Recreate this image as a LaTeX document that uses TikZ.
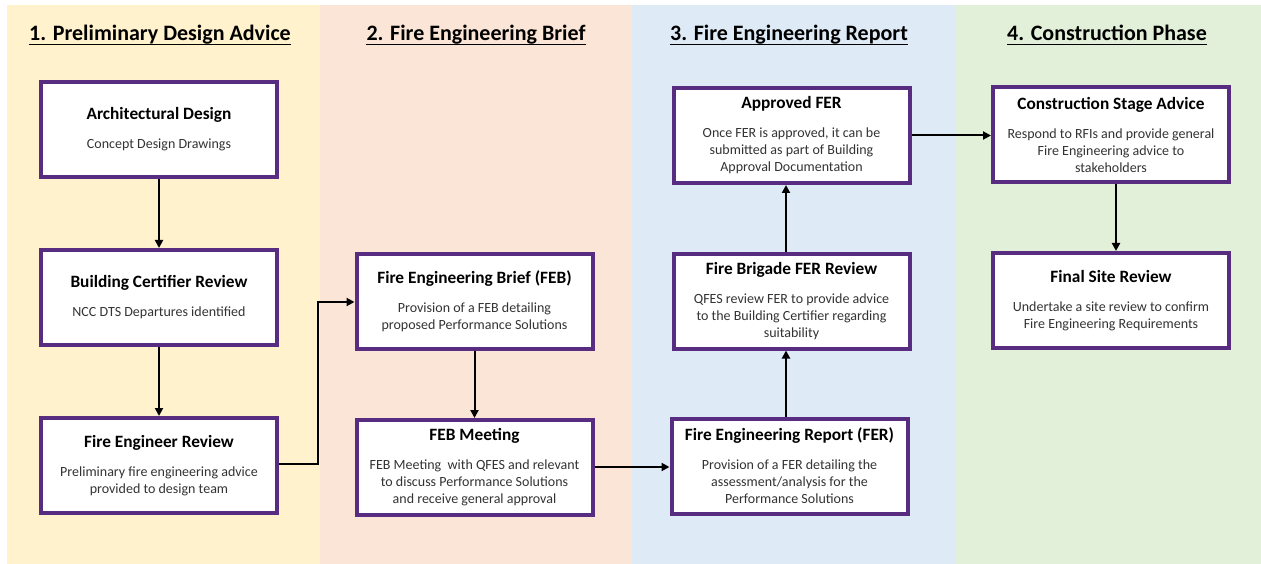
\documentclass[tikz,border=0pt]{standalone}
\usepackage{fontspec}
\setmainfont{Carlito}
\usetikzlibrary{arrows.meta,calc}
\definecolor{pY}{HTML}{FFF2CC}
\definecolor{pP}{HTML}{FBE5D6}
\definecolor{pB}{HTML}{DEEBF7}
\definecolor{pG}{HTML}{E2F0D9}
\definecolor{purp}{RGB}{88,44,128}
\definecolor{subc}{HTML}{333333}
\newcommand{\bxc}[2]{{\fontsize{17.3}{17}\selectfont\bfseries\color{black}#1}\\[12pt]#2}
\tikzset{
  stagebox/.style={draw=purp, line width=4pt, fill=white, minimum width=236pt, minimum height=95pt,
    inner sep=0pt, align=center, text=subc, font=\fontsize{14}{17}\selectfont},
  hdr/.style={font=\fontsize{22}{24}\selectfont\bfseries, inner sep=0pt, anchor=base},
  arr/.style={line width=2pt, -{Triangle[length=8pt,width=8pt]}},
  ul/.style={line width=1.4pt}
}
\begin{document}
\begin{tikzpicture}[x=1pt,y=-1pt]
\useasboundingbox (0,0) rectangle (1261,564);
\fill[white] (0,0) rectangle (1261,564);
\fill[pY] (7,5) rectangle (320,564);
\fill[pP] (320,5) rectangle (632,564);
\fill[pB] (632,5) rectangle (955,564);
\fill[pG] (955,5) rectangle (1261,564);
% headers
\node[hdr] (h1) at (160,41) {1. Preliminary Design Advice};
\node[hdr] (h2) at (476,41) {2. Fire Engineering Brief};
\node[hdr] (h3) at (789,41) {3. Fire Engineering Report};
\node[hdr] (h4) at (1107,41) {4. Construction Phase};
\foreach \h in {h1,h2,h3,h4}{
  \draw[ul] ([yshift=-3.5pt]\h.base west) -- ([yshift=-3.5pt]\h.base east);
}
% boxes
\node[stagebox] (A1) at (159,129.5) {\bxc{Architectural Design}{Concept Design Drawings}};
\node[stagebox] (A2) at (159,297.5) {\bxc{Building Certifier Review}{NCC DTS Departures identified}};
\node[stagebox] (A3) at (159,465.5) {\bxc{Fire Engineer Review}{Preliminary fire engineering advice\\provided to design team}};
\node[stagebox] (B1) at (474.5,301.5) {\bxc{Fire Engineering Brief (FEB)}{Provision of a FEB detailing\\proposed Performance Solutions}};
\node[stagebox] (B2) at (474.5,467.5) {\bxc{FEB Meeting}{FEB Meeting\ \ with QFES and relevant\\to discuss Performance Solutions\\and receive general approval}};
\node[stagebox] (C1) at (789.5,466) {\bxc{Fire Engineering Report (FER)}{Provision of a FER detailing the\\assessment/analysis for the\\Performance Solutions}};
\node[stagebox] (C2) at (791.5,301) {\bxc{Fire Brigade FER Review}{QFES review FER to provide advice\\to the Building Certifier regarding\\suitability}};
\node[stagebox] (C3) at (791.5,135.5) {\bxc{Approved FER}{Once FER is approved, it can be\\submitted as part of Building\\Approval Documentation}};
\node[stagebox] (D1) at (1111,134.5) {\bxc{Construction Stage Advice}{Respond to RFIs and provide general\\Fire Engineering advice to\\stakeholders}};
\node[stagebox] (D2) at (1111,300.5) {\bxc{Final Site Review}{Undertake a site review to confirm\\Fire Engineering Requirements}};
% connectors
\draw[arr] (A1.south) -- (A2.north);
\draw[arr] (A2.south) -- (A3.north);
\draw[arr] ([yshift=1.5pt]A3.east) -| (318,302) -- (B1.west |- 0,302);
\draw[arr] (B1.south) -- (B1.south |- B2.north);
\draw[arr] (B2.east |- 0,467) -- (C1.west |- 0,467);
\draw[arr] ([xshift=-3.5pt]C1.north) -- ([xshift=-3.5pt]C1.north |- C2.south);
\draw[arr] ([xshift=-5.5pt]C2.north) -- ([xshift=-5.5pt]C2.north |- C3.south);
\draw[arr] (C3.east) -- (D1.west |- C3.east);
\draw[arr] ([xshift=5pt]D1.south) -- ([xshift=5pt]D1.south |- D2.north);
\end{tikzpicture}
\end{document}
